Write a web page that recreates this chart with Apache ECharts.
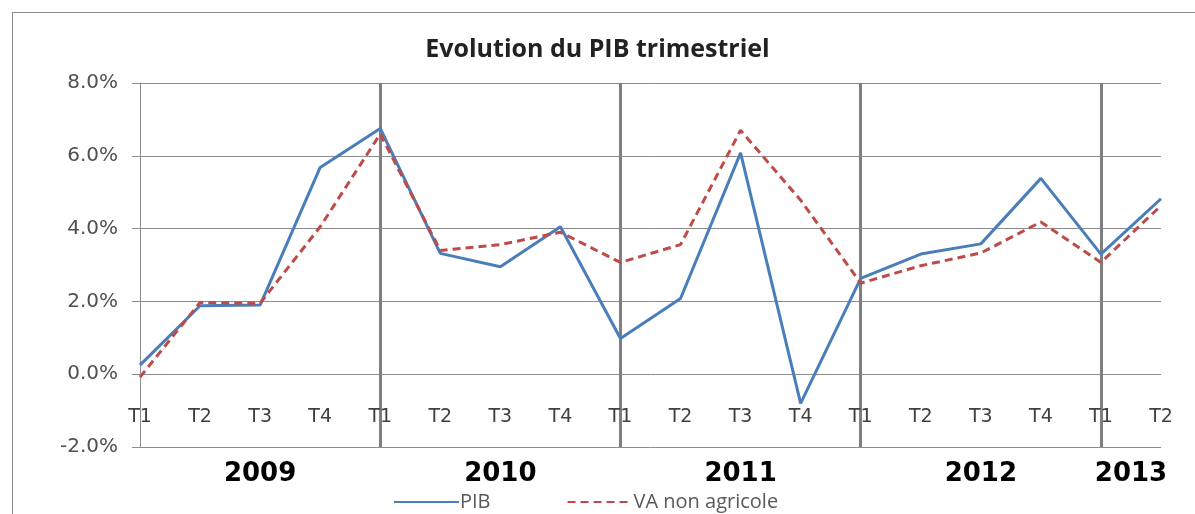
<!DOCTYPE html>
<html>
<head>
<meta charset="utf-8">
<script src="https://cdn.jsdelivr.net/npm/echarts@6/dist/echarts.min.js"></script>
<style>
  html, body { margin: 0; padding: 0; background: #fff; overflow: hidden; }
  #chart { width: 1195px; height: 514px; }
  #frame { position: absolute; left: 12px; top: 12px; width: 1200px; height: 520px;
           border: 1px solid #8c8c8c; pointer-events: none; }
</style>
</head>
<body>
<div id="chart"></div>
<div id="frame"></div>
<script>
// trimestres (axe des catégories)
var quarters = ['T1','T2','T3','T4', 'T1','T2','T3','T4', 'T1','T2','T3','T4',
                'T1','T2','T3','T4', 'T1','T2']
// années et nombre de trimestres affichés par année
var years = ['2009', '2010', '2011', '2012', '2013']
var quartersPerYear = [4, 4, 4, 4, 2]

// séries (%)
var pib = [0.25, 1.88, 1.9, 5.68, 6.75, 3.32, 2.95, 4.05, 0.98, 2.08, 6.08, -0.8,
           2.63, 3.3, 3.58, 5.38, 3.3, 4.82]
var vaNonAgricole = [-0.08, 1.97, 1.95, 4.05, 6.6, 3.4, 3.56, 3.9, 3.07, 3.56, 6.7, 4.78,
                     2.5, 2.98, 3.33, 4.18, 3.07, 4.63]

var yTicks = { min: -2, max: 8, interval: 2 }

// position du milieu de chaque année sur l'axe (en index de trimestre)
var yearCenters = []
var start = 0
quartersPerYear.forEach(function(n) {
  var end = Math.min(start + 4, quarters.length - 1)
  yearCenters.push((start + end) / 2)
  start += n
})

var myChart = echarts.init(document.getElementById('chart'), null, { renderer: 'canvas' })

myChart.setOption({
  backgroundColor: '#fff',
  animation: false,
  title: {
    text: 'Evolution du PIB trimestriel',
    left: 'center',
    top: 32,
    textStyle: { fontFamily: 'Open Sans', fontWeight: 'bold', fontSize: 25, color: '#222' }
  },
  legend: {
    top: 487,
    left: 388,
    itemWidth: 65,
    itemHeight: 12,
    itemGap: 76,
    itemStyle: { opacity: 0 },
    textStyle: { fontFamily: 'Open Sans', fontSize: 20, color: '#595959', padding: [0, 0, 0, -4] },
    data: ['PIB', 'VA non agricole']
  },
  grid: { left: 140, right: 34, top: 83, bottom: 67, containLabel: false },
  xAxis: [{
    type: 'category',
    data: quarters,
    boundaryGap: false,
    axisLine: { show: false },
    axisTick: { show: false },
    axisLabel: {
      inside: true,
      margin: 20,
      interval: 0,
      fontFamily: 'DejaVu Sans',
      fontSize: 19,
      color: '#404040'
    },
    splitLine: {
      show: true,
      interval: function(index) { return index > 0 && index % 4 === 0 },
      lineStyle: { color: '#7f7f7f', width: 3 }
    }
  }, {
    type: 'value',
    position: 'bottom',
    min: 0,
    max: quarters.length - 1,
    axisLine: { show: false },
    axisTick: { show: false },
    splitLine: { show: false },
    axisLabel: {
      customValues: yearCenters,
      margin: 14,
      fontFamily: 'DejaVu Sans',
      fontWeight: 'bold',
      fontSize: 26,
      color: '#000',
      formatter: function(v) {
        var i = yearCenters.indexOf(v)
        return i >= 0 ? years[i] : ''
      }
    }
  }],
  yAxis: {
    type: 'value',
    min: yTicks.min,
    max: yTicks.max,
    interval: yTicks.interval,
    axisLine: { show: true, lineStyle: { color: '#8c8c8c', width: 1 } },
    axisTick: { show: true, length: 8, lineStyle: { color: '#8c8c8c' } },
    axisLabel: {
      margin: 22,
      fontFamily: 'DejaVu Sans',
      fontSize: 20,
      color: '#505050',
      formatter: function(v) { return v.toFixed(1) + '%' }
    },
    splitLine: { lineStyle: { color: '#8c8c8c', width: 1 } }
  },
  series: [{
    name: 'PIB',
    type: 'line',
    data: pib,
    symbol: 'none',
    lineStyle: { color: '#4a7ebb', width: 3 },
    itemStyle: { color: '#4a7ebb' }
  }, {
    name: 'VA non agricole',
    type: 'line',
    data: vaNonAgricole,
    symbol: 'none',
    lineStyle: { color: '#be4b48', width: 3, type: [8, 5] },
    itemStyle: { color: '#be4b48' }
  }]
})

window.addEventListener('resize', function() { myChart.resize() })
</script>
</body>
</html>
